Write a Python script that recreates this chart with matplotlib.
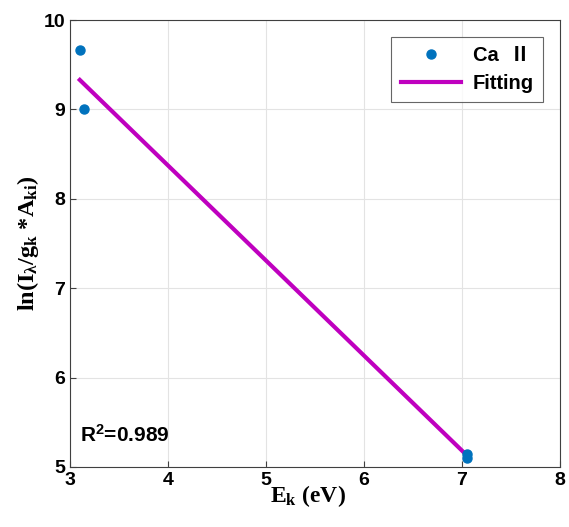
import matplotlib
matplotlib.use("Agg")
import matplotlib.pyplot as plt

plt.rcParams['font.family'] = ['Liberation Sans', 'Noto Sans CJK SC', 'DejaVu Sans']
plt.rcParams['mathtext.fontset'] = 'custom'
plt.rcParams['mathtext.rm'] = 'Liberation Serif:bold'
plt.rcParams['mathtext.it'] = 'Liberation Serif:bold'
plt.rcParams['mathtext.bf'] = 'Liberation Serif:bold'

ek = [3.10, 3.14, 7.05, 7.05]
ln_vals = [9.67, 9.00, 5.15, 5.10]
fit_x = [3.10, 7.05]
fit_y = [9.33, 5.13]
r2_text = "R$^{\\mathsf{2}}$=0.989"

fig = plt.figure(figsize=(5.69, 5.27), dpi=100)
ax = fig.add_axes([0.123, 0.114, 0.861, 0.848])

ax.plot(ek, ln_vals, 'o', color='#0072BD', markersize=6.5, label='Ca  Ⅱ', zorder=3)
ax.plot(fit_x, fit_y, '-', color='#BF00BF', linewidth=3, label='Fitting', zorder=2)

ax.set_xlim(3, 8)
ax.set_ylim(5, 10)
ax.set_xticks([3, 4, 5, 6, 7, 8])
ax.set_yticks([5, 6, 7, 8, 9, 10])
ax.grid(True, color='#e3e3e3', linewidth=0.8)
ax.set_axisbelow(True)
for s in ax.spines.values():
    s.set_color('#404040')
    s.set_linewidth(0.8)
ax.tick_params(direction='in', length=4, labelsize=14, colors='#404040', labelcolor='black')
for lab in ax.get_xticklabels() + ax.get_yticklabels():
    lab.set_fontweight('bold')

ax.text(5.04, 4.67, r'$\mathbf{E_k}$ (eV)', fontsize=17, fontfamily='Liberation Serif',
        fontweight='bold', ha='left', va='center', clip_on=False)
ax.set_ylabel(r'ln(I$_\lambda$/g$_k$ *A$_{ki}$)', fontsize=17.5, fontfamily='Liberation Serif',
              fontweight='bold', labelpad=2)

plt.rcParams['mathtext.sf'] = 'Liberation Sans:bold'
ax.text(3.10, 5.36, r2_text, fontsize=15, fontweight='bold', va='center')

leg = ax.legend(loc='upper right', bbox_to_anchor=(0.966, 0.962), borderaxespad=0,
                prop={'weight': 'bold', 'size': 14.5}, fancybox=False, edgecolor='#404040',
                handlelength=3.0, borderpad=0.45, labelspacing=0.45, handletextpad=0.6)
leg.get_frame().set_linewidth(0.8)

fig.savefig('out.png', dpi=100)
